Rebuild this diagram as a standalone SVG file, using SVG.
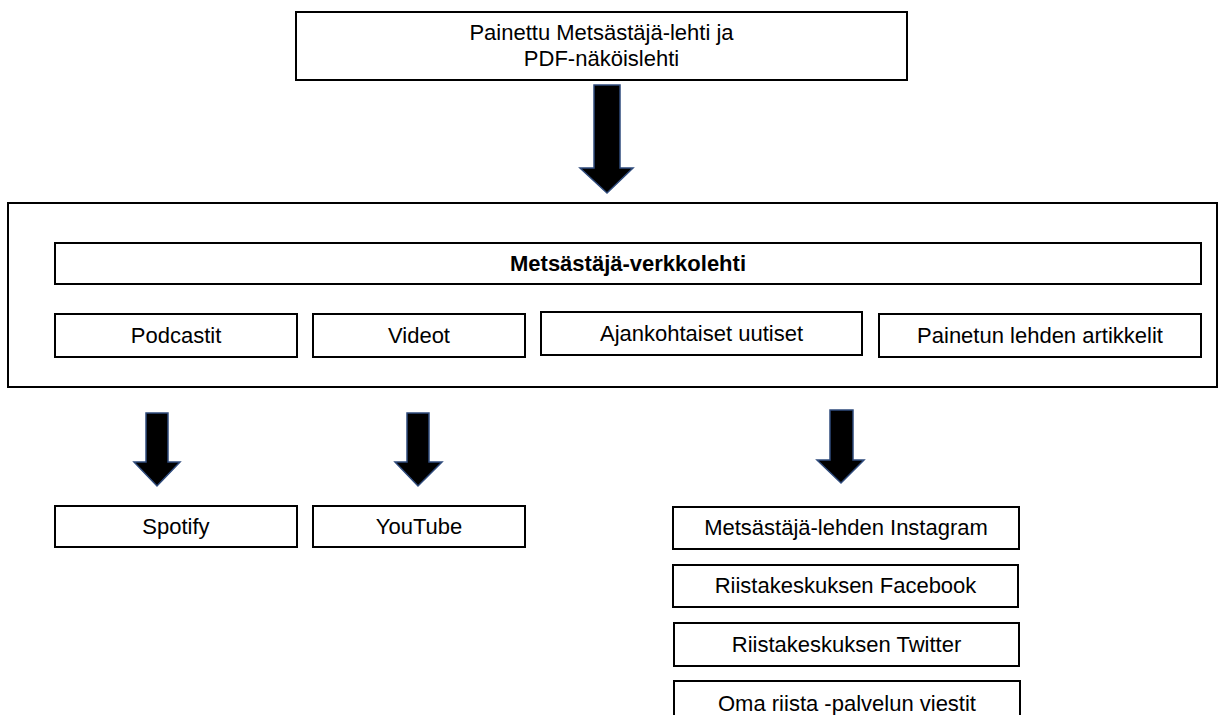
<svg xmlns="http://www.w3.org/2000/svg" width="1222" height="715" viewBox="0 0 1222 715">
<style>
.box{fill:#fff;stroke:#000;stroke-width:2}
.t{font-family:"Liberation Sans",Arial,sans-serif;font-size:22px;fill:#000;text-anchor:middle}
.b{font-weight:bold}
.arr{fill:#000;stroke:#2f4b7c;stroke-width:1.5;stroke-linejoin:miter}
</style>
<rect width="1222" height="715" fill="#fff"/>
<g id="container">
<rect class="box" x="8" y="203" width="1209" height="184"/>
</g>
<g id="painettu">
<rect class="box" x="296" y="12" width="611" height="68"/>
<text class="t" x="601.5" y="40">Painettu Metsästäjä-lehti ja</text>
<text class="t" x="601.5" y="66">PDF-näköislehti</text>
</g>
<g id="verkkolehti">
<rect class="box" x="55" y="243" width="1146" height="41"/>
<text class="t b" x="628" y="271">Metsästäjä-verkkolehti</text>
</g>
<g id="podcastit">
<rect class="box" x="55" y="314" width="242" height="43"/>
<text class="t" x="176" y="343">Podcastit</text>
</g>
<g id="videot">
<rect class="box" x="313" y="314" width="212" height="43"/>
<text class="t" x="419" y="343">Videot</text>
</g>
<g id="uutiset">
<rect class="box" x="541" y="312" width="321" height="43"/>
<text class="t" x="701.5" y="341">Ajankohtaiset uutiset</text>
</g>
<g id="artikkelit">
<rect class="box" x="879" y="314" width="322" height="43"/>
<text class="t" x="1040" y="343">Painetun lehden artikkelit</text>
</g>
<g id="spotify">
<rect class="box" x="55" y="506" width="242" height="41"/>
<text class="t" x="176" y="534">Spotify</text>
</g>
<g id="youtube">
<rect class="box" x="313" y="506" width="212" height="41"/>
<text class="t" x="419" y="534">YouTube</text>
</g>
<g id="instagram">
<rect class="box" x="673" y="507" width="346" height="42"/>
<text class="t" x="846" y="535">Metsästäjä-lehden Instagram</text>
</g>
<g id="facebook">
<rect class="box" x="673" y="565" width="345" height="42"/>
<text class="t" x="845.5" y="593">Riistakeskuksen Facebook</text>
</g>
<g id="twitter">
<rect class="box" x="674" y="623" width="345" height="43"/>
<text class="t" x="846.5" y="652">Riistakeskuksen Twitter</text>
</g>
<g id="omariista">
<rect class="box" x="674" y="681" width="346" height="50"/>
<text class="t" x="847" y="711">Oma riista -palvelun viestit</text>
</g>
<g id="connectors">
<path class="arr" d="M594,85 H620 V168 H633 L607,193 L580,168 H594 Z"/>
<path class="arr" d="M146,413 H168 V462 H180 L157,486 L134,462 H146 Z"/>
<path class="arr" d="M407,413 H429 V462 H442 L418,486 L395,462 H407 Z"/>
<path class="arr" d="M830,410 H853 V460 H864 L841,483 L817,460 H830 Z"/>
</g>
</svg>
